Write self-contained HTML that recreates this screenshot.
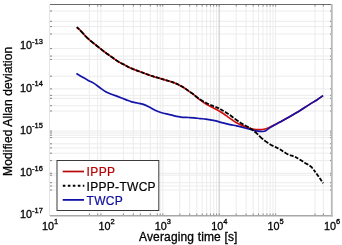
<!DOCTYPE html><html><head><meta charset="utf-8"><style>html,body{margin:0;padding:0;background:#fff;width:342px;height:245px;overflow:hidden}svg{display:block;will-change:transform}text{font-family:"Liberation Sans",sans-serif}</style></head><body>
<svg width="342" height="245" viewBox="0 0 342 245">
<path d="M89.4 4.5V215.5M97.7 4.5V215.5M100.9 4.5V215.5M123.4 4.5V215.5M133.3 4.5V215.5M140.4 4.5V215.5M150.3 4.5V215.5M157.3 4.5V215.5M160.2 4.5V215.5M162.8 4.5V215.5M179.8 4.5V215.5M189.7 4.5V215.5M196.8 4.5V215.5M202.2 4.5V215.5M206.7 4.5V215.5M210.5 4.5V215.5M213.7 4.5V215.5M216.6 4.5V215.5M219.2 4.5V215.5M236.2 4.5V215.5M246.1 4.5V215.5M253.2 4.5V215.5M258.6 4.5V215.5M263.1 4.5V215.5M266.9 4.5V215.5M270.1 4.5V215.5M273.0 4.5V215.5M275.6 4.5V215.5M315.0 4.5V215.5M323.3 4.5V215.5M50.0 190.1H332.0M50.0 186.0H332.0M50.0 182.7H332.0M50.0 175.2H332.0M50.0 173.3H332.0M50.0 160.6H332.0M50.0 153.2H332.0M50.0 147.9H332.0M50.0 143.8H332.0M50.0 137.6H332.0M50.0 135.2H332.0M50.0 133.0H332.0M50.0 131.1H332.0M50.0 111.0H332.0M50.0 105.7H332.0M50.0 98.3H332.0M50.0 95.4H332.0M50.0 88.9H332.0M50.0 76.2H332.0M50.0 59.4H332.0M50.0 56.1H332.0M50.0 48.6H332.0M50.0 34.0H332.0M50.0 26.6H332.0M50.0 21.3H332.0M50.0 11.0H332.0" stroke="#ececec" stroke-width="1" fill="none"/>
<path d="M219.2 4.5V215.5" stroke="#cdcdcd" stroke-width="1" fill="none"/>
<path d="M89.4 215.5v-2M89.4 4.5v2M97.7 215.5v-2M97.7 4.5v2M100.9 215.5v-2M100.9 4.5v2M123.4 215.5v-2M123.4 4.5v2M133.3 215.5v-2M133.3 4.5v2M140.4 215.5v-2M140.4 4.5v2M150.3 215.5v-2M150.3 4.5v2M157.3 215.5v-2M157.3 4.5v2M160.2 215.5v-2M160.2 4.5v2M162.8 215.5v-2M162.8 4.5v2M179.8 215.5v-2M179.8 4.5v2M189.7 215.5v-2M189.7 4.5v2M196.8 215.5v-2M196.8 4.5v2M202.2 215.5v-2M202.2 4.5v2M206.7 215.5v-2M206.7 4.5v2M210.5 215.5v-2M210.5 4.5v2M213.7 215.5v-2M213.7 4.5v2M216.6 215.5v-2M216.6 4.5v2M219.2 215.5v-2M219.2 4.5v2M236.2 215.5v-2M236.2 4.5v2M246.1 215.5v-2M246.1 4.5v2M253.2 215.5v-2M253.2 4.5v2M258.6 215.5v-2M258.6 4.5v2M263.1 215.5v-2M263.1 4.5v2M266.9 215.5v-2M266.9 4.5v2M270.1 215.5v-2M270.1 4.5v2M273.0 215.5v-2M273.0 4.5v2M275.6 215.5v-2M275.6 4.5v2M315.0 215.5v-2M315.0 4.5v2M323.3 215.5v-2M323.3 4.5v2M50.0 190.1h2M332.0 190.1h-2M50.0 186.0h2M332.0 186.0h-2M50.0 182.7h2M332.0 182.7h-2M50.0 175.2h2M332.0 175.2h-2M50.0 173.3h2M332.0 173.3h-2M50.0 160.6h2M332.0 160.6h-2M50.0 153.2h2M332.0 153.2h-2M50.0 147.9h2M332.0 147.9h-2M50.0 143.8h2M332.0 143.8h-2M50.0 137.6h2M332.0 137.6h-2M50.0 135.2h2M332.0 135.2h-2M50.0 133.0h2M332.0 133.0h-2M50.0 131.1h2M332.0 131.1h-2M50.0 111.0h2M332.0 111.0h-2M50.0 105.7h2M332.0 105.7h-2M50.0 98.3h2M332.0 98.3h-2M50.0 95.4h2M332.0 95.4h-2M50.0 88.9h2M332.0 88.9h-2M50.0 76.2h2M332.0 76.2h-2M50.0 59.4h2M332.0 59.4h-2M50.0 56.1h2M332.0 56.1h-2M50.0 48.6h2M332.0 48.6h-2M50.0 34.0h2M332.0 34.0h-2M50.0 26.6h2M332.0 26.6h-2M50.0 21.3h2M332.0 21.3h-2M50.0 11.0h2M332.0 11.0h-2" stroke="#888" stroke-width="1" fill="none"/>
<path d="M50.0 4.5H332.0" stroke="#6a6a6a" stroke-width="1"/>
<path d="M50.0 215.8H332.8" stroke="#a8a8a8" stroke-width="1.6"/>
<path d="M331.8 4H331.8V216.5" stroke="#b8b8b8" stroke-width="1.8"/>
<path d="M49.5 4.5V216" stroke="#e4e4e4" stroke-width="1"/>
<path d="M76.80 27.20C77.50 27.87 79.43 29.58 81.00 31.20C82.57 32.82 84.53 35.23 86.20 36.90C87.87 38.57 89.40 39.85 91.00 41.20C92.60 42.55 94.30 43.82 95.80 45.00C97.30 46.18 98.63 47.22 100.00 48.30C101.37 49.38 102.50 50.37 104.00 51.50C105.50 52.63 107.37 53.93 109.00 55.10C110.63 56.27 112.13 57.33 113.80 58.50C115.47 59.67 117.30 61.08 119.00 62.10C120.70 63.12 122.37 63.75 124.00 64.60C125.63 65.45 127.17 66.40 128.80 67.20C130.43 68.00 132.10 68.72 133.80 69.40C135.50 70.08 137.30 70.67 139.00 71.30C140.70 71.93 142.37 72.60 144.00 73.20C145.63 73.80 147.17 74.33 148.80 74.90C150.43 75.47 152.10 76.07 153.80 76.60C155.50 77.13 157.30 77.60 159.00 78.10C160.70 78.60 162.37 79.12 164.00 79.60C165.63 80.08 167.17 80.50 168.80 81.00C170.43 81.50 172.10 81.95 173.80 82.60C175.50 83.25 177.30 84.03 179.00 84.90C180.70 85.77 182.37 86.77 184.00 87.80C185.63 88.83 187.17 89.97 188.80 91.10C190.43 92.23 191.93 93.13 193.80 94.60C195.67 96.07 197.90 98.28 200.00 99.90C202.10 101.52 204.38 103.07 206.40 104.30C208.42 105.53 210.18 106.32 212.10 107.30C214.02 108.28 215.98 109.13 217.90 110.20C219.82 111.27 221.70 112.42 223.60 113.70C225.50 114.98 227.15 116.38 229.30 117.90C231.45 119.42 234.20 121.47 236.50 122.80C238.80 124.13 240.92 124.98 243.10 125.90C245.28 126.82 247.43 127.70 249.60 128.30C251.77 128.90 254.12 129.28 256.10 129.50C258.08 129.72 259.85 129.72 261.50 129.60C263.15 129.48 264.58 129.22 266.00 128.80C267.42 128.38 268.50 127.80 270.00 127.10C271.50 126.40 273.33 125.43 275.00 124.60C276.67 123.77 276.73 123.90 280.00 122.10C283.27 120.30 289.73 116.72 294.60 113.80C299.47 110.88 305.55 106.87 309.20 104.60C312.85 102.33 314.18 101.70 316.50 100.20C318.82 98.70 322.00 96.37 323.10 95.60" fill="none" stroke="#d01010" stroke-width="1.7" stroke-linejoin="round"/>
<path d="M76.40 73.60C77.38 74.18 80.33 75.97 82.30 77.10C84.27 78.23 86.25 79.35 88.20 80.40C90.15 81.45 92.05 82.18 94.00 83.40C95.95 84.62 97.95 86.32 99.90 87.70C101.85 89.08 103.77 90.60 105.70 91.70C107.63 92.80 109.55 93.52 111.50 94.30C113.45 95.08 115.02 95.52 117.40 96.40C119.78 97.28 123.42 98.68 125.80 99.60C128.18 100.52 129.75 101.33 131.70 101.90C133.65 102.47 135.55 102.58 137.50 103.00C139.45 103.42 141.45 103.72 143.40 104.40C145.35 105.08 147.25 106.12 149.20 107.10C151.15 108.08 153.15 109.40 155.10 110.30C157.05 111.20 158.28 111.73 160.90 112.50C163.52 113.27 168.17 114.25 170.80 114.90C173.43 115.55 174.75 116.00 176.70 116.40C178.65 116.80 180.55 117.12 182.50 117.30C184.45 117.48 186.45 117.42 188.40 117.50C190.35 117.58 192.25 117.62 194.20 117.80C196.15 117.98 198.15 118.38 200.10 118.60C202.05 118.82 203.47 118.75 205.90 119.10C208.33 119.45 211.85 120.07 214.70 120.70C217.55 121.33 220.45 122.25 223.00 122.90C225.55 123.55 227.75 124.10 230.00 124.60C232.25 125.10 234.32 125.42 236.50 125.90C238.68 126.38 240.92 126.95 243.10 127.50C245.28 128.05 247.43 128.65 249.60 129.20C251.77 129.75 253.92 130.42 256.10 130.80C258.28 131.18 260.97 131.60 262.70 131.50C264.43 131.40 265.28 130.85 266.50 130.20C267.72 129.55 268.58 128.52 270.00 127.60C271.42 126.68 273.33 125.62 275.00 124.70C276.67 123.78 276.73 123.92 280.00 122.10C283.27 120.28 289.73 116.72 294.60 113.80C299.47 110.88 305.55 106.87 309.20 104.60C312.85 102.33 314.18 101.70 316.50 100.20C318.82 98.70 322.00 96.37 323.10 95.60" fill="none" stroke="#1414a8" stroke-width="1.7" stroke-linejoin="round"/>
<path d="M76.84 27.24 L78.08 28.39 L79.33 29.55 L80.57 30.76 L81.81 32.06M81.81 32.06 L83.05 33.45 L84.30 34.86 L85.54 36.22 L86.78 37.47M86.78 37.47 L88.02 38.63 L89.27 39.73 L90.51 40.78 L91.75 41.82M91.75 41.82 L92.99 42.81 L94.23 43.78 L95.48 44.75 L96.72 45.72M96.72 45.72 L97.96 46.70 L99.20 47.67 L100.45 48.66 L101.69 49.67M101.69 49.67 L102.93 50.67 L104.17 51.63 L105.42 52.55 L106.66 53.44M106.66 53.44 L107.90 54.32 L109.14 55.20 L110.39 56.09 L111.63 56.97M111.63 56.97 L112.87 57.85 L114.11 58.72 L115.36 59.61 L116.60 60.51M116.60 60.51 L117.84 61.36 L119.08 62.15 L120.33 62.83 L121.57 63.43M121.57 63.43 L122.81 64.01 L124.05 64.63 L125.30 65.30 L126.54 66.00M126.54 66.00 L127.78 66.68 L129.02 67.31 L130.27 67.89 L131.51 68.45M131.51 68.45 L132.75 68.97 L134.00 69.48 L135.24 69.95 L136.48 70.40M136.48 70.40 L137.72 70.84 L138.96 71.29 L140.21 71.76 L141.45 72.23M141.45 72.23 L142.69 72.71 L143.94 73.18 L145.18 73.63 L146.42 74.07M146.42 74.07 L147.66 74.50 L148.90 74.94 L150.15 75.37 L151.39 75.80M151.39 75.80 L152.63 76.22 L153.88 76.62 L155.12 77.00 L156.36 77.35M156.36 77.35 L157.60 77.70 L158.84 78.05 L160.09 78.42 L161.33 78.80M161.33 78.80 L162.57 79.17 L163.81 79.55 L165.06 79.91 L166.30 80.27M166.30 80.27 L167.54 80.62 L168.78 81.00 L170.03 81.37 L171.27 81.74M171.27 81.74 L172.51 82.14 L173.75 82.58 L175.00 83.07 L176.24 83.60M176.24 83.60 L177.48 84.16 L178.72 84.76 L179.97 85.41 L181.21 86.10M181.21 86.10 L182.45 86.84 L183.69 87.61 L184.94 88.41 L186.18 89.26M186.18 89.26 L187.42 90.13 L188.66 91.01 L189.91 91.86 L191.15 92.71M191.15 92.71 L192.39 93.58 L193.63 94.48 L194.88 95.43 L196.12 96.43M196.12 96.43 L197.36 97.44 L198.60 98.40 L199.85 99.30 L201.09 100.10M201.09 100.10 L202.33 100.83 L203.57 101.52 L204.82 102.18 L206.06 102.83M206.06 102.83 L207.30 103.45 L208.54 104.04 L209.79 104.60 L211.03 105.14M211.03 105.14 L212.27 105.67 L213.51 106.17 L214.76 106.63 L216.00 107.10M216.00 107.10 L217.24 107.60 L218.48 108.18 L219.73 108.81 L220.97 109.49M220.97 109.49 L222.21 110.19 L223.45 110.91 L224.70 111.65 L225.94 112.40M225.94 112.40 L227.18 113.18 L228.42 114.00 L229.67 114.86 L230.91 115.77M230.91 115.77 L232.15 116.72 L233.39 117.68 L234.64 118.63 L235.88 119.56M235.88 119.56 L237.12 120.43 L238.36 121.28 L239.61 122.11 L240.85 122.91M240.85 122.91 L242.09 123.69 L243.33 124.44 L244.58 125.14 L245.82 125.79M245.82 125.79 L247.06 126.43 L248.30 127.11 L249.55 127.87 L250.79 128.70M250.79 128.70 L252.03 129.58 L253.27 130.51 L254.52 131.49 L255.76 132.51M255.76 132.51 L257.00 133.61 L258.24 134.82 L259.49 136.09 L260.73 137.31M260.73 137.31 L261.97 138.44 L263.21 139.46 L264.46 140.43 L265.70 141.37M265.70 141.37 L266.94 142.26 L268.19 143.12 L269.43 143.93 L270.67 144.70M270.67 144.70 L271.91 145.39 L273.16 146.01 L274.40 146.58 L275.64 147.14M275.64 147.14 L276.88 147.72 L278.13 148.33 L279.37 149.01 L280.61 149.77M280.61 149.77 L281.85 150.58 L283.10 151.41 L284.34 152.23 L285.58 153.02M285.58 153.02 L286.82 153.75 L288.07 154.37 L289.31 154.88 L290.55 155.32M290.55 155.32 L291.79 155.71 L293.04 156.11 L294.28 156.55 L295.52 157.07M295.52 157.07 L296.76 157.70 L298.01 158.41 L299.25 159.17 L300.49 159.97M300.49 159.97 L301.73 160.79 L302.98 161.62 L304.22 162.42 L305.46 163.17M305.46 163.17 L306.70 163.86 L307.95 164.54 L309.19 165.29 L310.43 166.19M310.43 166.19 L311.23 166.91 L312.03 167.73 L312.83 168.66 L313.63 169.68M313.63 169.68 L314.43 170.76 L315.23 171.87 L316.03 172.97 L316.83 174.06M316.83 174.06 L317.63 175.18 L318.43 176.31 L319.23 177.46 L320.03 178.61M320.03 178.61 L320.82 179.76 L321.62 180.91 L322.41 182.06 L323.20 183.20" fill="none" stroke="#000" stroke-width="1.8" stroke-dasharray="3.2 1.5" stroke-linejoin="round"/>
<text x="42.9" y="49.4" font-size="10.8" text-anchor="end" stroke="#000" stroke-width="0.3">10<tspan font-size="7.5" dy="-5.5">-13</tspan></text>
<text x="42.9" y="91.6" font-size="10.8" text-anchor="end" stroke="#000" stroke-width="0.3">10<tspan font-size="7.5" dy="-5.5">-14</tspan></text>
<text x="42.9" y="133.8" font-size="10.8" text-anchor="end" stroke="#000" stroke-width="0.3">10<tspan font-size="7.5" dy="-5.5">-15</tspan></text>
<text x="42.9" y="176.0" font-size="10.8" text-anchor="end" stroke="#000" stroke-width="0.3">10<tspan font-size="7.5" dy="-5.5">-16</tspan></text>
<text x="42.9" y="218.2" font-size="10.8" text-anchor="end" stroke="#000" stroke-width="0.3">10<tspan font-size="7.5" dy="-5.5">-17</tspan></text>
<text x="50.1" y="229.9" font-size="10.8" text-anchor="middle" stroke="#000" stroke-width="0.3">10<tspan font-size="7.5" dy="-5.5">1</tspan></text>
<text x="106.5" y="229.9" font-size="10.8" text-anchor="middle" stroke="#000" stroke-width="0.3">10<tspan font-size="7.5" dy="-5.5">2</tspan></text>
<text x="162.9" y="229.9" font-size="10.8" text-anchor="middle" stroke="#000" stroke-width="0.3">10<tspan font-size="7.5" dy="-5.5">3</tspan></text>
<text x="219.3" y="229.9" font-size="10.8" text-anchor="middle" stroke="#000" stroke-width="0.3">10<tspan font-size="7.5" dy="-5.5">4</tspan></text>
<text x="275.7" y="229.9" font-size="10.8" text-anchor="middle" stroke="#000" stroke-width="0.3">10<tspan font-size="7.5" dy="-5.5">5</tspan></text>
<text x="332.1" y="229.9" font-size="10.8" text-anchor="middle" stroke="#000" stroke-width="0.3">10<tspan font-size="7.5" dy="-5.5">6</tspan></text>
<text x="139.0" y="240.6" font-size="12" textLength="98.4" lengthAdjust="spacing" stroke="#000" stroke-width="0.3">Averaging time [s]</text>
<text transform="translate(11.7 175.9) rotate(-90)" font-size="12" textLength="129.2" lengthAdjust="spacing" stroke="#000" stroke-width="0.3">Modified Allan deviation</text>
<rect x="57" y="160.5" width="101.8" height="50" fill="#fff" stroke="#3a3a3a" stroke-width="1"/>
<path d="M62.7 171.5H84" stroke="#b80808" stroke-width="1.7"/>
<path d="M62.8 185.7H84.3" stroke="#000" stroke-width="2" stroke-dasharray="2.6 2.4"/>
<path d="M62.7 199.9H84" stroke="#1212a8" stroke-width="1.8"/>
<text x="86.6" y="175.8" font-size="12" fill="#b80000" textLength="28.4" lengthAdjust="spacing" stroke="#b80000" stroke-width="0.2">IPPP</text>
<text x="86.6" y="190.8" font-size="12" fill="#000" textLength="69.0" lengthAdjust="spacing" stroke="#000" stroke-width="0.2">IPPP-TWCP</text>
<text x="86.6" y="204.6" font-size="12" fill="#0c0c9c" textLength="36.2" lengthAdjust="spacing" stroke="#0c0c9c" stroke-width="0.2">TWCP</text>
</svg></body></html>
